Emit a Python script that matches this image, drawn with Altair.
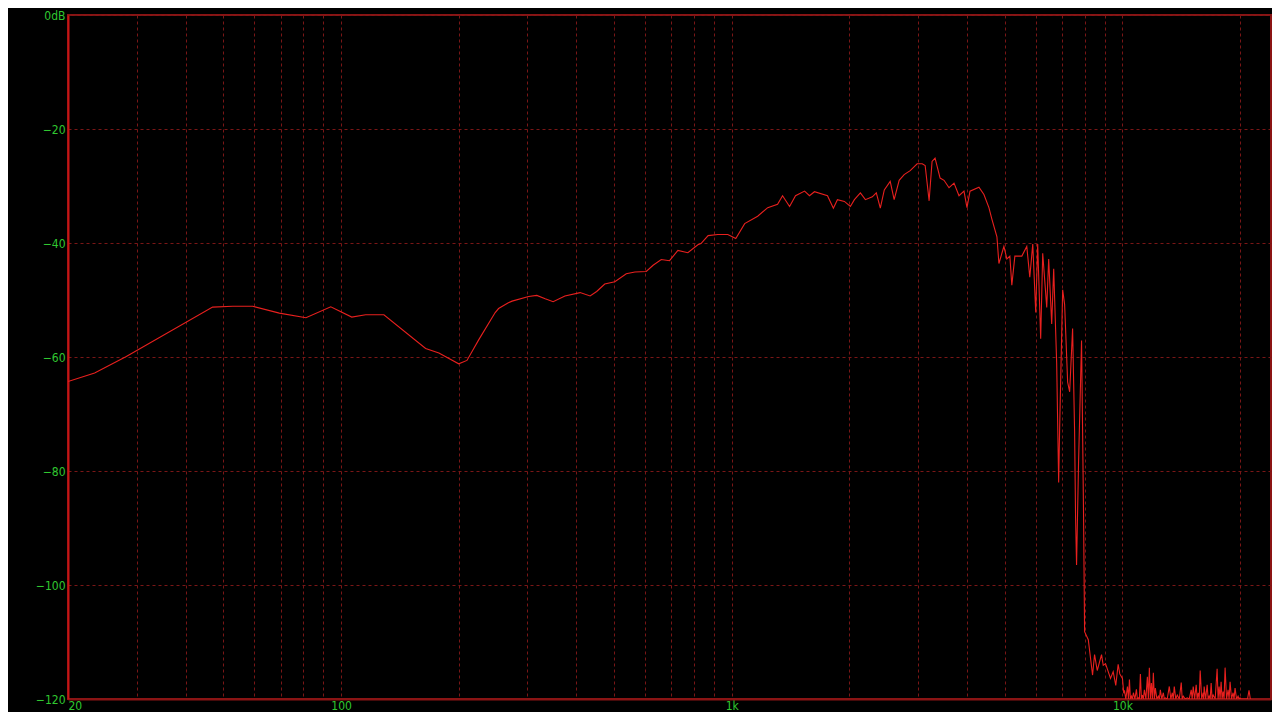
import altair as alt
import pandas as pd

# Frequency response trace (Hz, dB)
freq_hz = [
    20, 23.4, 28.2, 46.9, 52.8, 59.4, 69.5, 81.3, 94.1, 106.5, 115.6, 128.7,
    164.6, 178, 200, 210, 225, 248, 253, 268, 274, 302, 317, 333, 349, 374,
    409, 434, 451, 473, 502, 537, 565, 604, 629, 660, 693, 728, 772, 819, 834,
    870, 921, 977, 1024, 1079, 1165, 1236, 1310, 1349, 1406, 1456, 1536, 1581,
    1628, 1758, 1820, 1864, 1942, 2012, 2060, 2134, 2198, 2290, 2344, 2400,
    2457, 2544, 2604, 2682, 2762, 2862, 2982, 3072, 3126, 3200, 3256, 3314,
    3414, 3494, 3598, 3706, 3816, 3930, 4000, 4072, 4292, 4420, 4552, 4632,
    4772, 4828, 4914, 4972, 5060, 5150, 5210, 5304, 5526, 5690, 5792, 5894,
    5998, 6068, 6176, 6250, 6400, 6474, 6590, 6668, 6786, 6866, 6908, 7030,
    7112, 7240, 7326, 7454, 7542, 7586, 7630, 7720, 7858, 7952, 8000, 8176,
    8385, 8484, 8619, 8840, 8929, 9050, 9195, 9320, 9468, 9614, 9750, 9843,
    10000, 10077,
    10118, 10200, 10298, 10360, 10420, 10480, 10543, 10600, 10667, 10760,
    10857, 10920, 10985, 11050, 11115, 11180, 11247, 11310, 11379, 11480,
    11581, 11650, 11718, 11790, 11857, 11930, 11997, 12070, 12139, 12250,
    12354, 12430, 12501, 12610, 12723, 12800, 12873, 13020, 13179, 13300,
    13414, 13490, 13572, 13690, 13813, 13980, 14141, 14220, 14309, 14480,
    14648, 14820, 14997, 15080, 15174, 15300, 15443, 15530, 15626, 15720,
    15811, 15950, 16092, 16140, 16186, 16330, 16474, 16570, 16670, 16770,
    16866, 16960, 17066, 17270, 17471, 17570, 17678, 17780, 17886, 17990,
    18098, 18200, 18311, 18470, 18636, 18750, 18857, 19020, 19192, 19300,
    19419, 19590, 19765, 19880, 20000, 20100, 20900, 21083, 21250,
]

level_db = [
    -64.3, -62.8, -59.9, -51.25, -51.1, -51.1, -52.3, -53.1, -51.2, -53.0, -52.6, -52.6,
    -58.5, -59.3, -61.2, -60.6, -57.0, -52.2, -51.5, -50.5, -50.2, -49.4, -49.2, -49.8, -50.3, -49.3,
    -48.7, -49.3, -48.5, -47.2, -46.8, -45.4, -45.1, -45.0, -43.9, -42.9, -43.1, -41.3, -41.7, -40.3, -40.1,
    -38.7, -38.5, -38.5, -39.2, -36.6, -35.3, -33.8, -33.2, -31.7, -33.6, -31.7, -30.9, -31.7,
    -31.0, -31.7, -33.9, -32.4, -32.7, -33.6, -32.4, -31.2, -32.4, -31.9, -31.2, -33.9,
    -30.7, -29.2, -32.4, -29.0, -28.0, -27.3, -26.1, -26.1, -26.4, -32.6, -25.7, -25.1,
    -28.6, -29.0, -30.3, -29.5, -31.7, -30.9, -33.8, -30.9, -30.2, -31.5, -33.8, -35.8,
    -38.9, -43.6, -41.8, -40.6, -42.8, -42.3, -47.4, -42.3, -42.3, -40.6, -46.0, -40.2,
    -52.2, -40.2, -56.8, -41.8, -51.3, -42.8, -54.2, -44.5, -61.0, -82.0, -72.0, -48.2,
    -50.8, -64.4, -66.1, -55.0, -73.0, -88.3, -96.5, -78.6, -57.1, -88.0, -108.2, -109.6,
    -115.8, -112.2, -115.0, -112.2, -114.1, -113.8, -115.2, -116.4, -115.2, -117.6, -113.9, -115.6,
    -116.4, -119.0,
    -118.5, -120, -117.8, -120, -116.6, -120, -119.5, -120, -118.9, -120,
    -118.3, -120, -119.8, -120, -115.6, -120, -119.3, -120, -118.4, -120,
    -116.1, -120, -114.5, -120, -117.2, -120, -115.4, -120, -118.1, -120,
    -119.5, -120, -118.4, -120, -118.9, -120, -119.8, -120, -117.8, -120,
    -118.9, -120, -117.8, -120, -119.3, -120, -117.1, -120, -119.5, -120,
    -119.8, -120, -118.4, -120, -117.8, -120, -117.5, -120, -118.9, -120,
    -115.0, -120, -118.9, -120, -117.8, -120, -117.5, -120, -119.5, -120,
    -117.2, -120, -119.3, -120, -114.7, -120, -117.8, -120, -117.0, -120,
    -118.7, -120, -114.5, -120, -118.4, -120, -117.0, -120, -118.9, -120,
    -118.1, -120, -119.5, -120, -119.8, -120, -120, -118.5, -120,
]

y_ticks = [0, -20, -40, -60, -80, -100, -120]
x_grid = [20, 30, 40, 50, 60, 70, 80, 90,
          100, 200, 300, 400, 500, 600, 700, 800, 900,
          1000, 2000, 3000, 4000, 5000, 6000, 7000, 8000, 9000,
          10000, 20000]
x_label_values = [20, 100, 1000, 10000]
x_label_texts = ["20", "100", "1k", "10k"]

df = pd.DataFrame({"f": freq_hz, "db": level_db})

label_expr = "".join(
    f"datum.value == {v} ? '{t}' : " for v, t in zip(x_label_values, x_label_texts)
) + "''"

FONT = "DejaVu Sans Condensed, Liberation Sans Narrow, DejaVu Sans, sans-serif"
GREEN = "#30c830"
GRID = "#7a1616"

chart = (
    alt.Chart(df)
    .mark_line(color="#e8201e", strokeWidth=1.1, clip=True)
    .encode(
        x=alt.X(
            "f:Q",
            scale=alt.Scale(type="log", domain=[20, 24000], nice=False),
            axis=alt.Axis(
                values=x_grid,
                labelExpr=label_expr,
                title=None,
                grid=True,
                gridColor=GRID,
                gridDash=[3, 3],
                gridWidth=1,
                ticks=False,
                domainColor="#8b1414",
                domainWidth=2,
                labelColor=GREEN,
                labelFont=FONT,
                labelFontSize=12,
                labelPadding=1,
                labelFlush=True,
                labelOverlap=False,
            ),
        ),
        y=alt.Y(
            "db:Q",
            scale=alt.Scale(domain=[-120, 0], nice=False, zero=False),
            axis=alt.Axis(
                values=y_ticks,
                labelExpr="datum.value == 0 ? '0dB' : datum.label",
                format="d",
                title=None,
                grid=True,
                gridColor=GRID,
                gridDash=[3, 3],
                gridWidth=1,
                ticks=False,
                domainColor="#c81414",
                domainWidth=2,
                labelColor=GREEN,
                labelFont=FONT,
                labelFontSize=12,
                labelPadding=3,
                labelOverlap=False,
            ),
        ),
    )
    .properties(
        width=1203,
        height=684,
        background="#000000",
        autosize=alt.AutoSizeParams(type="none"),
        padding={"left": 60, "top": 7, "right": 1, "bottom": 13},
    )
    .configure_view(stroke="#8b1414", strokeWidth=2, fill="#000000")
)

chart.save("out.html", embed_options={"renderer": "svg", "actions": False})
